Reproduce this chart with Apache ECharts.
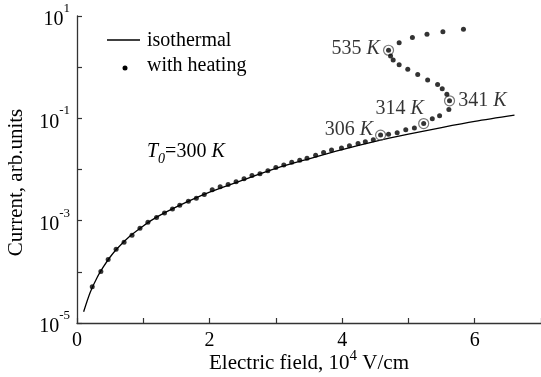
<!DOCTYPE html>
<html>
<head>
<meta charset="utf-8">
<script src="https://cdn.jsdelivr.net/npm/echarts@6/dist/echarts.min.js"></script>
<style>
  html, body { margin: 0; padding: 0; background: #fff; }
  #chart { width: 541px; height: 377px; }
</style>
</head>
<body>
<div id="chart"></div>
<script>
// Isothermal current–field characteristic (field in 10^4 V/cm, current in arb. units)
const isoField   = [0.1, 0.2, 0.3, 0.4, 0.5, 0.6, 0.8, 1.0, 1.2, 1.5, 2.0, 2.5, 3.0, 3.5, 4.0, 4.5, 5.0, 5.5, 6.0, 6.6];
const isoCurrent = [1.66e-5, 4.0e-5, 7.6e-5, 1.26e-4, 1.95e-4, 2.8e-4, 5.0e-4, 7.9e-4, 1.17e-3, 1.86e-3,
                    3.6e-3, 6.2e-3, 1.05e-2, 1.62e-2, 2.45e-2, 3.55e-2, 4.9e-2, 6.6e-2, 8.7e-2, 1.15e-1];

// Characteristic with self-heating (S-shaped branch at high field)
const heatField = [0.23, 0.36, 0.47, 0.59, 0.71, 0.83, 0.95, 1.07, 1.20, 1.32, 1.44, 1.55, 1.68, 1.80, 1.92,
                   2.04, 2.16, 2.28, 2.40, 2.52, 2.64, 2.76, 2.88, 3.00, 3.12, 3.24, 3.36, 3.47, 3.60, 3.72,
                   3.84, 3.99, 4.11, 4.24, 4.35, 4.47, 4.58, 4.70, 4.83, 4.96, 5.09, 5.23, 5.36, 5.47, 5.61,
                   5.62, 5.58, 5.51, 5.44, 5.29, 5.14, 4.99, 4.86, 4.77, 4.73, 4.70, 4.86, 5.06, 5.28, 5.52, 5.83];
const heatCurrent = [5.1e-5, 1.02e-4, 1.74e-4, 2.75e-4, 3.8e-4, 5.2e-4, 7.1e-4, 9.3e-4, 1.15e-3, 1.41e-3, 1.70e-3,
                     2.0e-3, 2.4e-3, 2.75e-3, 3.24e-3, 4.0e-3, 4.6e-3, 5.1e-3, 5.75e-3, 6.6e-3, 7.6e-3, 8.3e-3,
                     9.5e-3, 1.10e-2, 1.23e-2, 1.38e-2, 1.51e-2, 1.66e-2, 1.9e-2, 2.14e-2, 2.4e-2, 2.63e-2,
                     2.9e-2, 3.24e-2, 3.47e-2, 3.8e-2, 4.7e-2, 4.9e-2, 5.25e-2, 6.0e-2, 6.5e-2, 7.9e-2, 9.8e-2,
                     1.12e-1, 1.48e-1, 2.2e-1, 2.95e-1, 3.8e-1, 4.6e-1, 5.6e-1, 7.2e-1, 9.1e-1, 1.12, 1.38,
                     1.66, 2.14, 3.0, 3.8, 4.4, 4.9, 5.5];

// Points with the device temperature marked
const markField   = [4.58, 5.23, 5.62, 4.70];
const markCurrent = [4.7e-2, 7.9e-2, 2.2e-1, 2.14];
const markTemp    = ['306', '314', '341', '535'];

const FONT = 'Liberation Serif, Times New Roman, serif';
const INK = '#000';
const AXIS = '#333';

const zip = (xs, ys) => xs.map((x, i) => [x, ys[i]]);

const tempLabelLayout = [
  { position: 'left',  distance: 2, offset: [0, -5] },
  { position: 'top',   distance: 4, offset: [-24, 5] },
  { position: 'right', distance: 3, offset: [0, 0] },
  { position: 'left',  distance: 3, offset: [0, -2] }
];

const kRich = {
  n: { fontFamily: FONT, fontSize: 20, color: INK },
  k: { fontFamily: FONT, fontSize: 20, color: INK, fontStyle: 'italic' }
};

const chart = echarts.init(document.getElementById('chart'), null, { renderer: 'canvas' });

chart.setOption({
  animation: false,
  backgroundColor: '#fff',
  grid: { left: 77, right: 0, top: 16, bottom: 54, containLabel: false, outerBoundsMode: 'none' },
  xAxis: {
    type: 'value',
    min: 0, max: 7, interval: 1,
    splitLine: { show: false },
    axisLine: { lineStyle: { color: AXIS, width: 1.3 } },
    axisTick: { inside: true, length: 5, lineStyle: { color: AXIS, width: 1.2 } },
    axisLabel: {
      margin: 8,
      fontFamily: FONT, fontSize: 20, color: INK,
      formatter: v => (v % 2 === 0 && v < 7) ? String(v) : ''
    },
    name: '{t|Electric field, 10}{s|4}{t| V/cm}',
    nameLocation: 'middle',
    nameGap: 26,
    nameMoveOverlap: false,
    nameTextStyle: {
      rich: {
        t: { fontFamily: FONT, fontSize: 21, color: INK, lineHeight: 25, verticalAlign: 'bottom' },
        s: { fontFamily: FONT, fontSize: 15, color: INK, lineHeight: 15, verticalAlign: 'top' }
      }
    }
  },
  yAxis: {
    type: 'log',
    logBase: 10,
    min: 1e-5, max: 10,
    splitLine: { show: false },
    axisLine: { lineStyle: { color: AXIS, width: 1.3 } },
    axisTick: { inside: true, length: 5, lineStyle: { color: AXIS, width: 1.2 } },
    axisLabel: {
      margin: 7,
      formatter: v => {
        const e = Math.round(Math.log10(v));
        return (Math.abs(e) % 2 === 1) ? '{b|10}{s|' + (e < 0 ? '-' : '') + Math.abs(e) + '}' : '';
      },
      rich: {
        b: { fontFamily: FONT, fontSize: 20, color: INK, lineHeight: 28, verticalAlign: 'bottom' },
        s: { fontFamily: FONT, fontSize: 13, color: INK, lineHeight: 14, verticalAlign: 'top' }
      }
    },
    name: 'Current, arb.units',
    nameLocation: 'middle',
    nameRotate: 90,
    nameGap: 50,
    nameTextStyle: { fontFamily: FONT, fontSize: 21, color: INK, padding: [0, 26, 0, 0] }
  },
  series: [
    {
      name: 'isothermal',
      type: 'line',
      data: zip(isoField, isoCurrent),
      symbol: 'none',
      smooth: 0.3,
      lineStyle: { color: INK, width: 1.3 },
      z: 2
    },
    {
      name: 'temperature marks',
      type: 'scatter',
      data: markField.map((x, i) => ({
        value: [x, markCurrent[i]],
        label: {
          show: true,
          formatter: '{n|' + markTemp[i] + ' }{k|K}',
          rich: kRich,
          position: tempLabelLayout[i].position,
          distance: tempLabelLayout[i].distance,
          offset: tempLabelLayout[i].offset
        }
      })),
      symbol: 'circle',
      symbolSize: 10,
      itemStyle: { color: 'rgba(255,255,255,0)', borderColor: '#555', borderWidth: 1.2 },
      z: 3
    },
    {
      name: 'with heating',
      type: 'scatter',
      data: zip(heatField, heatCurrent),
      symbol: 'circle',
      symbolSize: 5,
      itemStyle: { color: INK },
      z: 4
    }
  ],
  graphic: [
    { type: 'line', shape: { x1: 107, y1: 40, x2: 140, y2: 40 }, style: { stroke: INK, lineWidth: 1.3 } },
    { type: 'text', left: 147, top: 31, style: { text: 'isothermal', font: '20px ' + FONT, fill: INK } },
    { type: 'circle', shape: { cx: 125, cy: 68, r: 2.5 }, style: { fill: INK } },
    { type: 'text', left: 147, top: 56, style: { text: 'with heating', font: '20px ' + FONT, fill: INK } },
    {
      type: 'text', left: 147, top: 142,
      style: {
        text: '{t|T}{z|0}{n|=300 }{t|K}',
        rich: {
          t: { fontFamily: FONT, fontSize: 20, fontStyle: 'italic', fill: INK, lineHeight: 24, verticalAlign: 'top' },
          z: { fontFamily: FONT, fontSize: 14, fontStyle: 'italic', fill: INK, lineHeight: 14, verticalAlign: 'bottom' },
          n: { fontFamily: FONT, fontSize: 20, fill: INK, lineHeight: 24, verticalAlign: 'top' }
        }
      }
    }
  ]
});
</script>
</body>
</html>
